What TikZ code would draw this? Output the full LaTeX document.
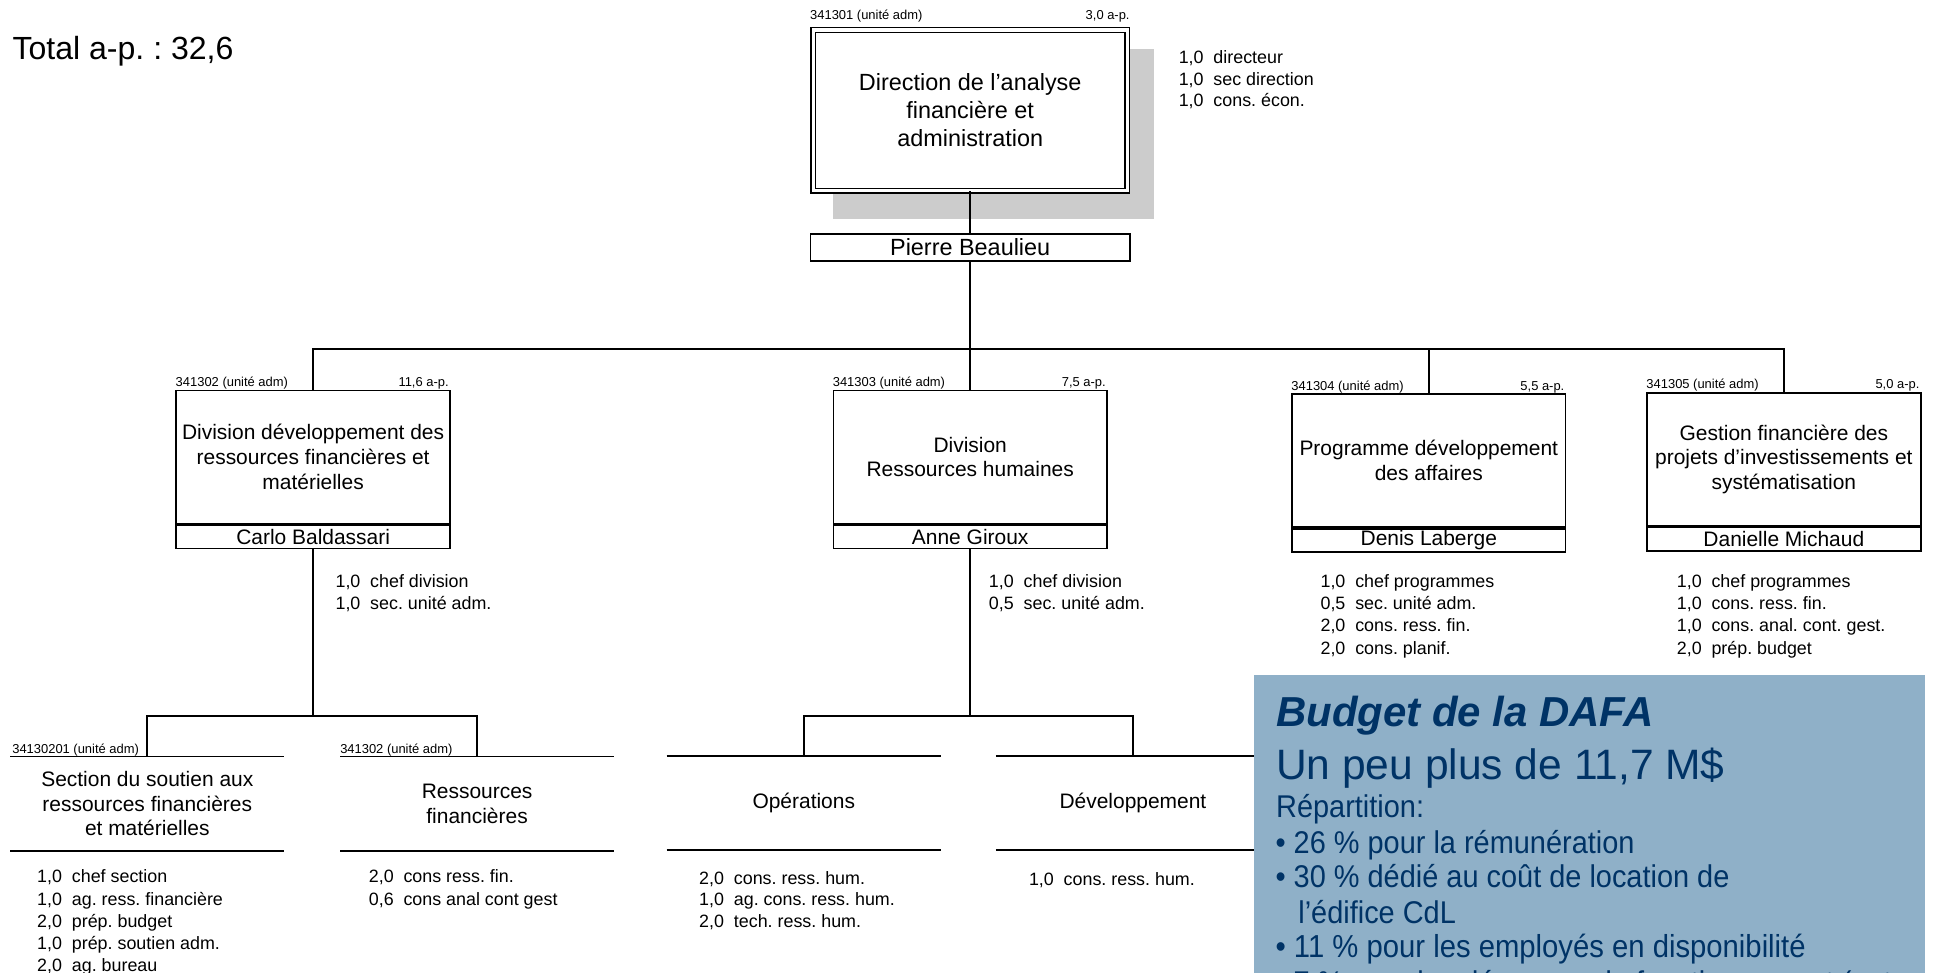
\documentclass[tikz,border=0pt]{standalone}
\usepackage{fontspec}
\setmainfont{Liberation Sans}
\newfontfamily\budgetbody[FakeStretch=0.92]{Liberation Sans}
\definecolor{budgetfill}{RGB}{143,176,200}
\definecolor{budgetink}{RGB}{0,51,102}
\definecolor{shadowgray}{RGB}{204,204,204}
\newcommand\fsz[2]{\fontsize{#1}{#2}\selectfont}
\newcommand\post[2]{#1\hspace{0.55em}#2}
\frenchspacing

\begin{document}
\begin{tikzpicture}[x=1pt,y=-1pt,
  conn/.style={line width=1.8pt},
  rule/.style={line width=1.3pt},
  unitbox/.style={draw,line width=1.3pt,fill=white,minimum width=222pt,minimum height=108pt,
    inner sep=0pt,align=center,anchor=north,font=\fsz{17}{20}},
  namebox/.style={draw,line width=1.3pt,fill=white,minimum width=222pt,minimum height=19pt,
    inner sep=0pt,anchor=north,font=\fsz{17}{20}},
  section/.style={minimum width=222pt,minimum height=76pt,inner sep=0pt,align=center,font=\fsz{17}{20}},
  tag/.style={inner sep=0pt,font=\fsz{10.5}{12}},
  tagl/.style={tag,anchor=base west,yshift=2.6pt},
  tagr/.style={tag,anchor=base east,yshift=2.6pt,xshift=-1.5pt},
  staff/.style={inner sep=0pt,align=left,anchor=north west,font=\fsz{14.5}{18}},
  btext/.style={inner sep=0pt,anchor=base west,text=budgetink},
]
\useasboundingbox (0,0) rectangle (1568,789);

% overall head-count
\node[inner sep=0pt,anchor=base west,font=\fsz{26}{30}] (total) at (10,48) {Total a-p. : 32,6};

% direction box with its shadow
\fill[shadowgray] (676,40) rectangle (936,178);
\node[draw,double,line width=1.2pt,double distance=2.6pt,fill=white,
  minimum width=254.7pt,minimum height=130.4pt,inner sep=0pt,align=center,
  font=\fsz{19}{22.5}] (dir) at (787,89.5)
  {Direction de l’analyse\\financière et\\administration};
\node[tag,anchor=base west] (dirid) at (657,15.8) {341301 (unité adm)};
\node[tag,anchor=base east] (dirap) at (916.5,15.8) {3,0 a-p.};
\node[namebox,minimum width=259pt,minimum height=22pt,font=\fsz{19}{22}] (pb) at (787,189) {Pierre Beaulieu};
\node[staff,font=\fsz{14.5}{17.6}] (dirstaff) at (956,40.8)
  {\post{1,0}{directeur}\\\post{1,0}{sec direction}\\\post{1,0}{cons. écon.}};

% divisions
\node[unitbox] (d1) at (254,316) {Division développement des\\ressources financières et\\matérielles};
\node[namebox] (d1n) at (d1.south) {Carlo Baldassari};
\node[tagl] (d1id) at (d1.north west) {341302 (unité adm)};
\node[tagr] (d1ap) at (d1.north east) {11,6 a-p.};
\node[staff] (d1staff) at (272,465.8) {\post{1,0}{chef division}\\\post{1,0}{sec. unité adm.}};

\node[unitbox] (d2) at (787,316) {Division\\Ressources humaines};
\node[namebox] (d2n) at (d2.south) {Anne Giroux};
\node[tagl] (d2id) at (d2.north west) {341303 (unité adm)};
\node[tagr] (d2ap) at (d2.north east) {7,5 a-p.};
\node[staff] (d2staff) at (802,465.8) {\post{1,0}{chef division}\\\post{0,5}{sec. unité adm.}};

\node[unitbox] (d3) at (1159,319) {Programme développement\\des affaires};
\node[namebox] (d3n) at (d3.south) {Denis Laberge};
\node[tagl] (d3id) at (d3.north west) {341304 (unité adm)};
\node[tagr] (d3ap) at (d3.north east) {5,5 a-p.};
\node[staff] (d3staff) at (1071,465.8)
  {\post{1,0}{chef programmes}\\\post{0,5}{sec. unité adm.}\\\post{2,0}{cons. ress. fin.}\\\post{2,0}{cons. planif.}};

\node[unitbox] (d4) at (1447,318) {Gestion financière des\\projets d’investissements et\\systématisation};
\node[namebox] (d4n) at (d4.south) {Danielle Michaud};
\node[tagl] (d4id) at (d4.north west) {341305 (unité adm)};
\node[tagr] (d4ap) at (d4.north east) {5,0 a-p.};
\node[staff] (d4staff) at (1360,465.8)
  {\post{1,0}{chef programmes}\\\post{1,0}{cons. ress. fin.}\\\post{1,0}{cons. anal. cont. gest.}\\\post{2,0}{prép. budget}};

% sections
\node[section] (s1) at (119.5,652) {Section du soutien aux\\ressources financières\\et matérielles};
\node[tagl,xshift=1.5pt] (s1id) at (s1.north west) {34130201 (unité adm)};
\node[staff] (s1staff) at (30,705.4)
  {\post{1,0}{chef section}\\\post{1,0}{ag. ress. financière}\\\post{2,0}{prép. budget}\\\post{1,0}{prép. soutien adm.}\\\post{2,0}{ag. bureau}};

\node[section] (s2) at (387,652) {Ressources\\financières};
\node[tagl] (s2id) at (s2.north west) {341302 (unité adm)};
\node[staff] (s2staff) at (299,705.4) {\post{2,0}{cons ress. fin.}\\\post{0,6}{cons anal cont gest}};

\node[section] (s3) at (652,651.4) {Opérations};
\node[staff,font=\fsz{14.5}{17.4}] (s3staff) at (567,706.8)
  {\post{2,0}{cons. ress. hum.}\\\post{1,0}{ag. cons. ress. hum.}\\\post{2,0}{tech. ress. hum.}};

\node[section] (s4) at (919,651.4) {Développement};
\node[staff] (s4staff) at (834.5,707.3) {\post{1,0}{cons. ress. hum.}};

\foreach \s in {s1,s2,s3,s4}{
  \draw[rule] (\s.north west) -- (\s.north east);
  \draw[rule] (\s.south west) -- (\s.south east);
}

% connectors
\coordinate (bus) at (787,283);
\coordinate (bus1) at (254,581);
\coordinate (bus2) at (787,581);
\draw[conn] (dir.south) -- (pb.north);
\draw[conn] (pb.south) -- (d2.north);
\draw[conn] (d1.north) |- (bus) -| (d4.north);
\draw[conn] (d3.north) -- (d3.north |- bus);
\draw[conn] (d1n.south) -- (bus1);
\draw[conn] (s1.north) |- (bus1) -| (s2.north);
\draw[conn] (d2n.south) -- (bus2);
\draw[conn] (s3.north) |- (bus2) -| (s4.north);

% budget panel
\node[fill=budgetfill,anchor=north west,minimum width=544pt,minimum height=262pt,inner sep=0pt] (budget) at (1017,547) {};
\node[btext,font=\fsz{34}{37}\bfseries\itshape] (bhead) at (1035,589) {Budget de la DAFA};
\node[btext,font=\fsz{34.5}{38}] (btotal) at (1035,632.6) {Un peu plus de 11,7 M\$};
\node[btext,font=\budgetbody\fsz{25.5}{28}] (bsplit) at (1035,663.4) {Répartition:};
\node[btext,font=\budgetbody\fsz{25.5}{28}] (bpay) at (1034.5,692.6) {• 26 \% pour la rémunération};
\node[btext,font=\budgetbody\fsz{25.5}{28}] (brent) at (1034.5,720) {• 30 \% dédié au coût de location de};
\node[btext,font=\budgetbody\fsz{25.5}{28}] (brent2) at (1053,749.4) {l’édifice CdL};
\node[btext,font=\budgetbody\fsz{25.8}{28}] (bidle) at (1034.5,777) {• 11 \% pour les employés en disponibilité};
\node[btext,font=\budgetbody\fsz{25.5}{28}] (bother) at (1034.5,805.5) {• 7 \% pour les dépenses de fonctionnement (autres postes)};
\end{tikzpicture}
\end{document}
